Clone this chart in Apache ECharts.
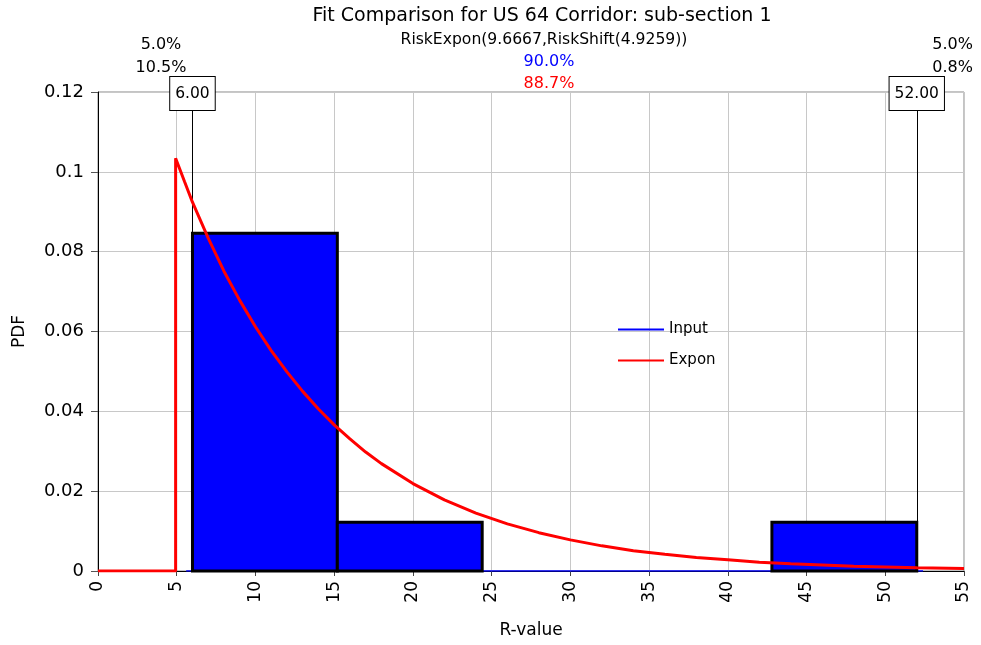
<!DOCTYPE html>
<html><head><meta charset="utf-8">
<script src="https://cdn.jsdelivr.net/npm/echarts@6/dist/echarts.min.js"></script>
<style>html,body{margin:0;padding:0;background:#fff}#c{width:981px;height:645px}</style>
</head><body><div id="c"></div>
<script>
// Histogram of input (bin edges and density)
const binStarts = [6, 15.2, 24.4, 33.6, 42.8];
const binEnds = [15.2, 24.4, 33.6, 42.8, 52];
const binDensity = [0.0846, 0.0122, 0, 0, 0.0122];
// Input baseline (zero density stretch)
const inputBaseX = [5.6, 52.4];
// Fitted Expon curve
const exponX = [0, 4.93, 4.93, 5.5, 6, 7, 8, 9, 10, 11, 12, 13, 14, 15, 16, 17, 18, 20, 22, 24, 26, 28, 30, 32, 34, 36, 38, 40, 42, 44, 46, 48, 50, 52, 54, 55];
const exponY = [0, 0, 0.1034, 0.0975, 0.0924, 0.0834, 0.0751, 0.0678, 0.0612, 0.0552, 0.0499, 0.0450, 0.0406, 0.0366, 0.0331, 0.0298, 0.0269, 0.0219, 0.0178, 0.0145, 0.0118, 0.0096, 0.0078, 0.0063, 0.0051, 0.0042, 0.0034, 0.0028, 0.0022, 0.0018, 0.0015, 0.0012, 0.0010, 0.0008, 0.0007, 0.0006];
// Marker lines
const markers = [6, 52];
const leftPct = ['5.0%', '10.5%'];
const midPct = ['90.0%', '88.7%'];
const rightPct = ['5.0%', '0.8%'];

const FONT = 'DejaVu Sans';
const chart = echarts.init(document.getElementById('c'), null, {renderer: 'canvas'});

const binData = binStarts.map((s, i) => [s, binEnds[i], binDensity[i]]);
const exponData = exponX.map((x, i) => [x, exponY[i]]);

chart.setOption({
  animation: false,
  backgroundColor: '#fff',
  textStyle: {fontFamily: FONT},
  grid: {left: 98, right: 17, top: 92, bottom: 74, show: true, borderColor: '#888', borderWidth: 1},
  legend: {
    orient: 'vertical', left: 612, top: 317, itemWidth: 46, itemHeight: 14, itemGap: 16,
    data: ['Input', 'Expon'],
    itemStyle: {opacity: 0},
    textStyle: {fontFamily: FONT, fontSize: 15, color: '#000'}
  },
  xAxis: {
    type: 'value', min: 0, max: 55, interval: 5,
    name: 'R-value', nameLocation: 'middle', nameGap: 51,
    nameTextStyle: {fontFamily: FONT, fontSize: 17, color: '#000'},
    axisLine: {show: true, onZero: false, lineStyle: {color: '#000', width: 1}},
    axisTick: {show: true, length: 5, lineStyle: {color: '#444'}},
    axisLabel: {rotate: 90, fontSize: 17, color: '#000', margin: 10, fontFamily: FONT},
    splitLine: {show: true, lineStyle: {color: '#c8c8c8', width: 1}}
  },
  yAxis: {
    type: 'value', min: 0, max: 0.12, interval: 0.02,
    name: 'PDF', nameLocation: 'middle', nameGap: 70, nameRotate: 90,
    nameTextStyle: {fontFamily: FONT, fontSize: 17, color: '#000'},
    axisLine: {show: true, lineStyle: {color: '#000', width: 1}},
    axisTick: {show: true, length: 7, lineStyle: {color: '#555'}},
    axisLabel: {fontSize: 18, color: '#000', margin: 14, fontFamily: FONT},
    splitLine: {show: true, lineStyle: {color: '#c8c8c8', width: 1}}
  },
  series: [
    {
      name: 'Input', type: 'line', data: inputBaseX.map(x => [x, 0]),
      symbol: 'none', lineStyle: {color: '#0000ff', width: 1.5}, itemStyle: {color: '#0000ff'}, z: 2
    },
    {
      name: 'InputBins', type: 'custom', data: binData, z: 3,
      encode: {x: [0, 1], y: 2},
      renderItem: function (params, api) {
        const h = api.value(2);
        if (!(h > 0)) return null;
        const p0 = api.coord([api.value(0), h]);
        const p1 = api.coord([api.value(1), 0]);
        return {
          type: 'rect',
          shape: {x: p0[0], y: p0[1], width: p1[0] - p0[0], height: p1[1] - p0[1]},
          style: {fill: '#0000ff', stroke: '#000', lineWidth: 3}
        };
      }
    },
    {
      name: 'Expon', type: 'line', data: exponData, symbol: 'none', z: 5,
      lineStyle: {color: '#ff0000', width: 3}, itemStyle: {color: '#ff0000'},
      markLine: {
        silent: true, symbol: ['none', 'none'], animation: false,
        lineStyle: {color: '#000', width: 1, type: 'solid'},
        label: {
          show: true, position: 'end', distance: -18,
          formatter: p => Number(p.value).toFixed(2),
          backgroundColor: '#fff', borderColor: '#000', borderWidth: 1,
          padding: [9, 5, 8, 5], color: '#000', fontSize: 15.5, fontFamily: FONT
        },
        data: markers.map(m => ({xAxis: m}))
      }
    }
  ],
  graphic: [
    {type: 'text', x: 542, y: 16, style: {text: 'Fit Comparison for US 64 Corridor: sub-section 1', font: '19px "DejaVu Sans"', fill: '#000', textAlign: 'center', textVerticalAlign: 'middle'}},
    {type: 'text', x: 544, y: 40, style: {text: 'RiskExpon(9.6667,RiskShift(4.9259))', font: '15.6px "DejaVu Sans"', fill: '#000', textAlign: 'center', textVerticalAlign: 'middle'}},
    {type: 'text', x: 161, y: 45, style: {text: leftPct[0], font: '16px "DejaVu Sans"', fill: '#000', textAlign: 'center', textVerticalAlign: 'middle'}},
    {type: 'text', x: 161, y: 68, style: {text: leftPct[1], font: '16px "DejaVu Sans"', fill: '#000', textAlign: 'center', textVerticalAlign: 'middle'}},
    {type: 'text', x: 549, y: 62, style: {text: midPct[0], font: '16px "DejaVu Sans"', fill: '#0000ff', textAlign: 'center', textVerticalAlign: 'middle'}},
    {type: 'text', x: 549, y: 84, style: {text: midPct[1], font: '16px "DejaVu Sans"', fill: '#ff0000', textAlign: 'center', textVerticalAlign: 'middle'}},
    {type: 'text', x: 973, y: 45, style: {text: rightPct[0], font: '16px "DejaVu Sans"', fill: '#000', textAlign: 'right', textVerticalAlign: 'middle'}},
    {type: 'text', x: 973, y: 68, style: {text: rightPct[1], font: '16px "DejaVu Sans"', fill: '#000', textAlign: 'right', textVerticalAlign: 'middle'}}
  ]
});
</script></body></html>
